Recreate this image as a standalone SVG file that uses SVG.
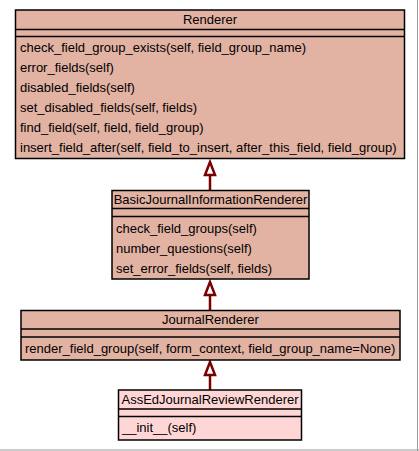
<svg xmlns="http://www.w3.org/2000/svg" width="419" height="451" viewBox="0 0 419 451">
  <style>
    .box { fill: #e2b2a3; stroke: #000; stroke-width: 1.5; }
    .leaf { fill: #ffd6d6; stroke: #000; stroke-width: 1.5; }
    .sep { stroke: #000; stroke-width: 1.5; }
    text { font-family: "Liberation Sans", Arial, sans-serif; font-size: 13px; fill: #000; }
    .title { text-anchor: middle; }
    .edge { stroke: #7a0000; stroke-width: 2.5; fill: none; }
    .head { stroke: #7a0000; stroke-width: 2.5; fill: #fff; }
  </style>
  <rect x="0" y="0" width="419" height="451" fill="#fff"/>
  <line x1="417.5" y1="0" x2="417.5" y2="451" stroke="#9a9a9a" stroke-width="1"/>
  <line x1="0" y1="450" x2="419" y2="450" stroke="#9a9a9a" stroke-width="1"/>

  <g id="connectors">
    <line class="edge" x1="210" y1="175" x2="210" y2="191"/>
    <polygon class="head" points="210,162 205,175 215,175"/>
    <line class="edge" x1="210" y1="295" x2="210" y2="311"/>
    <polygon class="head" points="210,282 205,295 215,295"/>
    <line class="edge" x1="210" y1="375" x2="210" y2="390"/>
    <polygon class="head" points="210,362 205,375 215,375"/>
  </g>

  <g id="Renderer">
    <rect class="box" x="15.5" y="10" width="389" height="148.5"/>
    <line class="sep" x1="15.5" y1="29.5" x2="404.5" y2="29.5"/>
    <line class="sep" x1="15.5" y1="36.5" x2="404.5" y2="36.5"/>
    <text class="title" x="210" y="24">Renderer</text>
    <text x="20" y="52">check_field_group_exists(self, field_group_name)</text>
    <text x="20" y="72">error_fields(self)</text>
    <text x="20" y="92">disabled_fields(self)</text>
    <text x="20" y="112">set_disabled_fields(self, fields)</text>
    <text x="20" y="132">find_field(self, field, field_group)</text>
    <text x="20" y="152">insert_field_after(self, field_to_insert, after_this_field, field_group)</text>
  </g>

  <g id="BasicJournalInformationRenderer">
    <rect class="box" x="112" y="190.5" width="197" height="88.5"/>
    <line class="sep" x1="112" y1="208.5" x2="309" y2="208.5"/>
    <line class="sep" x1="112" y1="216.5" x2="309" y2="216.5"/>
    <text class="title" x="210.5" y="204">BasicJournalInformationRenderer</text>
    <text x="116" y="233">check_field_groups(self)</text>
    <text x="116" y="253">number_questions(self)</text>
    <text x="116" y="273">set_error_fields(self, fields)</text>
  </g>

  <g id="JournalRenderer">
    <rect class="box" x="21" y="310.5" width="379" height="49.5"/>
    <line class="sep" x1="21" y1="329" x2="400" y2="329"/>
    <line class="sep" x1="21" y1="337" x2="400" y2="337"/>
    <text class="title" x="210.5" y="324">JournalRenderer</text>
    <text x="25" y="353">render_field_group(self, form_context, field_group_name=None)</text>
  </g>

  <g id="AssEdJournalReviewRenderer">
    <rect class="leaf" x="118.5" y="390" width="183" height="50"/>
    <line class="sep" x1="118.5" y1="409" x2="301.5" y2="409"/>
    <line class="sep" x1="118.5" y1="416.5" x2="301.5" y2="416.5"/>
    <text class="title" x="210" y="404">AssEdJournalReviewRenderer</text>
    <text x="122" y="432">__init__(self)</text>
  </g>
</svg>
